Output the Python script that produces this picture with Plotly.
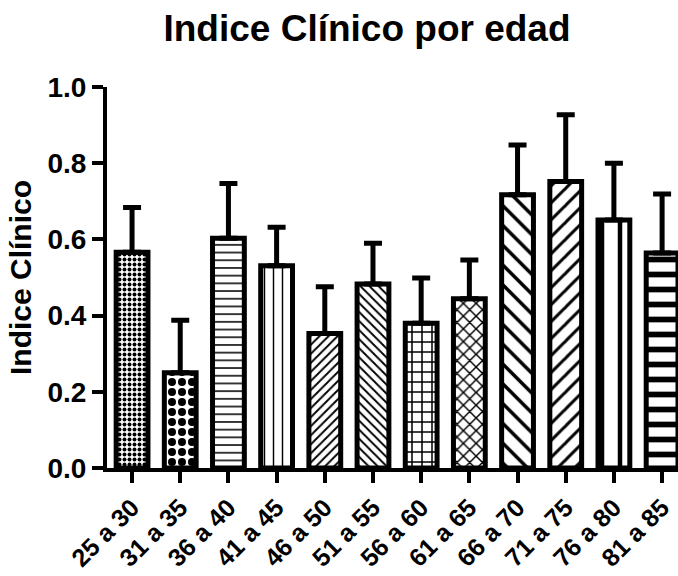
import plotly.graph_objects as go

categories = ["25 a 30", "31 a 35", "36 a 40", "41 a 45", "46 a 50", "51 a 55",
              "56 a 60", "61 a 65", "66 a 70", "71 a 75", "76 a 80", "81 a 85"]
means = [0.566, 0.250, 0.603, 0.531, 0.353, 0.483, 0.380, 0.444, 0.717, 0.752, 0.651, 0.564]
upper = [0.684, 0.388, 0.747, 0.632, 0.476, 0.590, 0.499, 0.546, 0.848, 0.927, 0.800, 0.719]
errors = [u - m for u, m in zip(upper, means)]

shapes_ = [".", ".", "-", "|", "/", "\\", "+", "x", "\\", "/", "|", "-"]
sizes_ = [5, 10, 7.7, 9, 6.4, 6.4, 10, 9, 14, 12, 18, 15]
solid_ = [0.5, 0.5, 0.2, 0.16, 0.3, 0.3, 0.28, 0.3, 0.25, 0.25, 0.25, 0.38]

FONT = "Liberation Sans, Arial, sans-serif"

fig = go.Figure()
fig.add_trace(go.Bar(
    x=list(range(len(categories))),
    y=means,
    width=0.66,
    marker=dict(
        color="white",
        line=dict(color="black", width=5),
        pattern=dict(shape=shapes_, size=sizes_, solidity=solid_,
                     fgcolor="black", bgcolor="white", fgopacity=1,
                     fillmode="replace"),
    ),
    error_y=dict(type="data", symmetric=False, array=errors,
                 arrayminus=[0] * len(errors), color="black",
                 thickness=5, width=9),
))

fig.update_layout(
    width=678, height=576,
    margin=dict(l=107, r=0, t=87, b=108),
    plot_bgcolor="white", paper_bgcolor="white",
    showlegend=False,
    title=dict(text="<b>Indice Clínico por edad</b>", x=367 / 678, xanchor="center",
               y=1 - 28 / 576, yanchor="middle",
               font=dict(family=FONT, size=37, color="black")),
    font=dict(family=FONT, color="black"),
)
fig.update_xaxes(
    range=[-0.52, 11.33], automargin=False,
    tickmode="array", tickvals=list(range(len(categories))),
    ticktext=["<b>%s</b>" % c for c in categories],
    tickangle=-45, tickfont=dict(size=25, family=FONT, color="black"),
    showline=True, linecolor="black", linewidth=4,
    ticks="outside", ticklen=11, tickwidth=4, tickcolor="black",
    showgrid=False, zeroline=False,
)
fig.update_yaxes(
    range=[0, 1.0], automargin=False,
    tickmode="array", tickvals=[0, 0.2, 0.4, 0.6, 0.8, 1.0],
    ticktext=["<b>0.0</b>", "<b>0.2</b>", "<b>0.4</b>", "<b>0.6</b>", "<b>0.8</b>", "<b>1.0</b>"],
    tickfont=dict(size=28, family=FONT, color="black"),
    showline=True, linecolor="black", linewidth=4,
    ticks="outside", ticklen=11, tickwidth=4, tickcolor="black",
    showgrid=False, zeroline=False,
    title=dict(text="<b>Indice Clínico</b>", font=dict(size=30, family=FONT, color="black"),
               standoff=8),
)

fig.write_html("out.html")
